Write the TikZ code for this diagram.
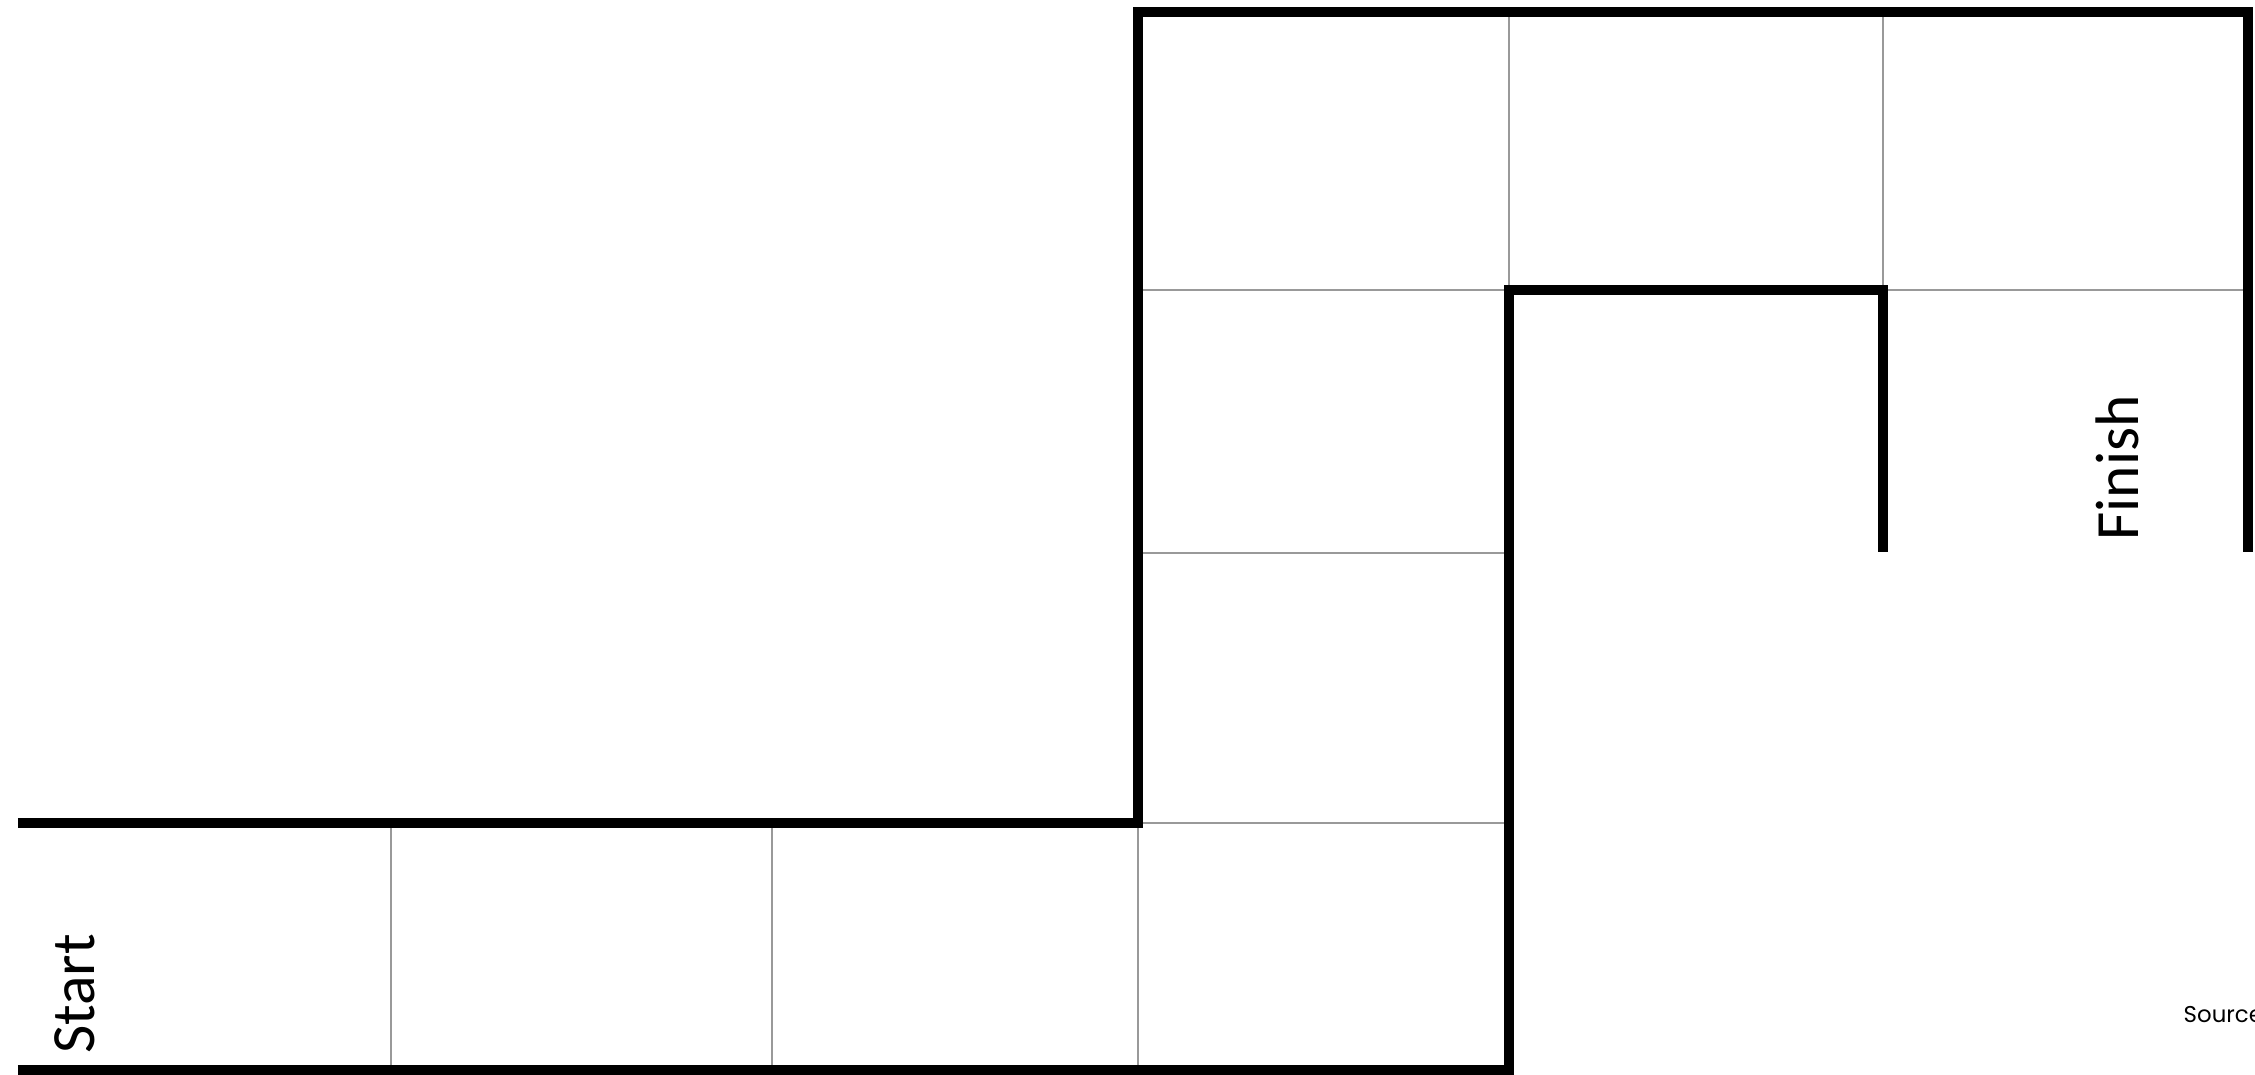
\documentclass[tikz,border=0pt]{standalone}
\usepackage{fontspec}
\setmainfont{Carlito}
\newfontfamily\srcfont{Poppins}
\usepackage{tikz}
\usetikzlibrary{positioning}

\begin{document}
\begin{tikzpicture}[
    wall/.style={line width=2.6pt, line cap=butt, line join=miter},
    cell/.style={line width=0.7pt, draw=black!40},
    label/.style={inner sep=0pt, rotate=90, font=\fontsize{17.5}{20}\selectfont}
]
    \useasboundingbox (0,0) rectangle (22.55,10.75);

    % Thin cell lines
    \draw[cell] (3.91,0.05) -- (3.91,2.52);
    \draw[cell] (7.72,0.05) -- (7.72,2.52);
    \draw[cell] (11.38,0.05) -- (11.38,2.52) -- (15.09,2.52);
    \draw[cell] (11.38,5.22) -- (15.09,5.22);
    \draw[cell] (11.38,7.85) -- (15.09,7.85) -- (15.09,10.63);
    \draw[cell] (18.83,10.63) -- (18.83,7.85) -- (22.48,7.85);

    % Outer wall
    \draw[wall] (0.18,2.52) -- (11.38,2.52) -- (11.38,10.63) -- (22.48,10.63) -- (22.48,5.23);

    % Inner wall
    \draw[wall] (0.18,0.05) -- (15.09,0.05) -- (15.09,7.85) -- (18.83,7.85) -- (18.83,5.23);

    % Labels
    \node[label] (start) at (0.745,0.81) {Start};
    \node[label] (finish) at (21.17,6.07) {Finish};
    \node[anchor=base west, inner sep=0pt, font=\srcfont\fontsize{6.5}{8}\selectfont] (source) at (21.83,0.52) {Source};
\end{tikzpicture}
\end{document}
